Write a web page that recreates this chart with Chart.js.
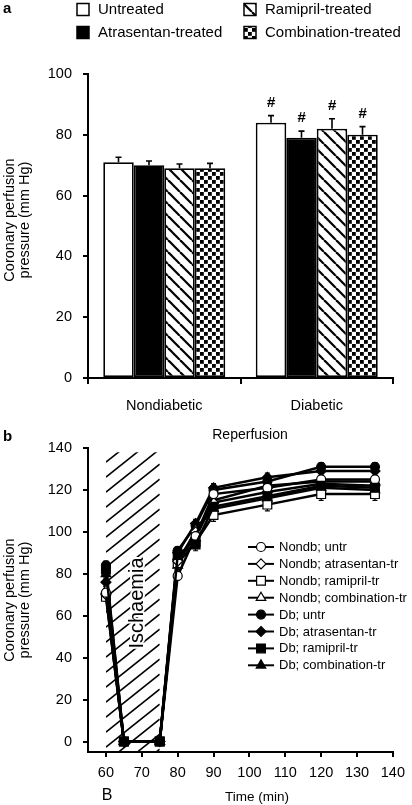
<!DOCTYPE html>
<html><head><meta charset="utf-8">
<script src="https://cdn.jsdelivr.net/npm/chart.js@4/dist/chart.umd.min.js"></script>
<style>
html,body{margin:0;padding:0;background:#fff;width:412px;height:805px;overflow:hidden}
#wa{position:absolute;left:0;top:0;width:412px;height:420px}
#wb{position:absolute;left:0;top:420px;width:412px;height:385px}
canvas{display:block}
</style></head><body>
<div id="wa"><canvas id="ca" width="412" height="420"></canvas></div>
<div id="wb"><canvas id="cb" width="412" height="385"></canvas></div>
<script>
// ---------- Panel a data ----------
const groupsA = ['Nondiabetic', 'Diabetic'];
const treatmentsA = ['Untreated', 'Atrasentan-treated', 'Ramipril-treated', 'Combination-treated'];
const untreatedA = [71, 84];
const atrasentanA = [70, 79];
const ramiprilA = [69, 82];
const combinationA = [69, 80];
const untreatedErrA = [1.6, 2.3];
const atrasentanErrA = [1.4, 2.2];
const ramiprilErrA = [1.4, 3.3];
const combinationErrA = [1.6, 2.7];
const significanceA = ['', '#'];
const yTicksA = [0, 20, 40, 60, 80, 100];
const yTitle = ['Coronary perfusion', 'pressure (mm Hg)'];

// ---------- Panel b data ----------
const timeB = [60, 65, 75, 80, 85, 90, 105, 120, 135];
const seriesNamesB = ['Nondb; untr', 'Nondb; atrasentan-tr', 'Nondb; ramipril-tr', 'Nondb; combination-tr',
                      'Db; untr', 'Db; atrasentan-tr', 'Db; ramipril-tr', 'Db; combination-tr'];
const nondbUntrB  = [71, 0, 0, 79, 98, 118, 121, 125, 125];
const nondbAtrasB = [70, 0, 0, 86, 100, 114, 119, 123, 122];
const nondbRamiB  = [69, 0, 0, 85, 95, 108, 113, 118, 118];
const nondbCombB  = [72, 0, 0, 84, 101, 111, 116, 121, 120];
const dbUntrB     = [84, 0, 0, 91, 103, 120, 124, 131, 131];
const dbAtrasB    = [76, 0, 0, 90, 104, 121, 126, 129, 129];
const dbRamiB     = [82, 0, 0, 89, 94, 112, 117, 122, 121];
const dbCombB     = [80, 0, 0, 88, 97, 115, 122, 124, 124];
const nondbUntrErrB  = [2, 0, 0, 2, 3, 3, 3, 3, 3];
const nondbAtrasErrB = [2, 0, 0, 2, 3, 3, 3, 3, 3];
const nondbRamiErrB  = [2, 0, 0, 3, 3, 3, 3, 3, 3];
const nondbCombErrB  = [2, 0, 0, 2, 3, 3, 3, 3, 3];
const dbUntrErrB     = [2, 0, 0, 2, 2, 2, 2, 2, 2];
const dbAtrasErrB    = [2, 0, 0, 2, 2, 2, 2, 2, 2];
const dbRamiErrB     = [2, 0, 0, 3, 3, 3, 3, 3, 3];
const dbCombErrB     = [2, 0, 0, 2, 2, 2, 2, 2, 2];
const xTicksB = [60, 70, 80, 90, 100, 110, 120, 130, 140];
const yTicksB = [0, 20, 40, 60, 80, 100, 120, 140];
const ischaemiaB = [60, 75];
const ischaemiaTopB = 138;

const FF = '"Liberation Sans", Arial, Helvetica, sans-serif';
Chart.defaults.font.family = FF;
Chart.defaults.color = '#000';

// ---------- patterns ----------
function makeDiagPattern() {
  const s = 12, c = document.createElement('canvas');
  c.width = s; c.height = s;
  const g = c.getContext('2d');
  g.fillStyle = '#fff'; g.fillRect(0, 0, s, s);
  g.strokeStyle = '#000'; g.lineWidth = 2.2;
  for (const k of [-1, 0, 1]) { g.beginPath(); g.moveTo(k * s, 0); g.lineTo(k * s + s, s); g.stroke(); }
  return g.createPattern(c, 'repeat');
}
function makeCheckPattern() {
  const s = 8, c = document.createElement('canvas');
  c.width = s; c.height = s;
  const g = c.getContext('2d');
  g.fillStyle = '#fff'; g.fillRect(0, 0, s, s);
  g.fillStyle = '#000';
  g.fillRect(0, 0, 3.8, 3.8);
  g.fillRect(4, 4, 3.8, 3.8);
  return g.createPattern(c, 'repeat');
}
const diagPat = makeDiagPattern();
const checkPat = makeCheckPattern();

function drawYTitle(ctx, cy) {
  ctx.save();
  ctx.fillStyle = '#000';
  ctx.font = '14.5px ' + FF;
  ctx.textAlign = 'center'; ctx.textBaseline = 'middle';
  ctx.translate(10, cy); ctx.rotate(-Math.PI / 2);
  ctx.fillText(yTitle[0], 0, 0);
  ctx.fillText(yTitle[1], 0, 15);
  ctx.restore();
}

// ---------- Panel a ----------
const fillsA = ['#fff', '#000', diagPat, checkPat];
const valuesA = [untreatedA, atrasentanA, ramiprilA, combinationA];
const errsA = [untreatedErrA, atrasentanErrA, ramiprilErrA, combinationErrA];

const pluginA = {
  id: 'extrasA',
  afterDatasetsDraw(chart) {
    const ctx = chart.ctx, y = chart.scales.y;
    ctx.save();
    ctx.strokeStyle = '#000'; ctx.lineWidth = 1.6;
    chart.data.datasets.forEach((ds, di) => {
      const meta = chart.getDatasetMeta(di);
      meta.data.forEach((el, i) => {
        const yTop = y.getPixelForValue(ds.data[i] + ds.err[i]);
        ctx.beginPath();
        ctx.moveTo(el.x, el.y); ctx.lineTo(el.x, yTop);
        ctx.moveTo(el.x - 3, yTop); ctx.lineTo(el.x + 3, yTop);
        ctx.stroke();
        if (significanceA[i]) {
          ctx.fillStyle = '#000';
          ctx.font = 'italic bold 15px ' + FF;
          ctx.textAlign = 'center'; ctx.textBaseline = 'middle';
          ctx.fillText(significanceA[i], el.x, yTop - 13);
        }
      });
    });
    ctx.restore();
  },
  afterDraw(chart) {
    const ctx = chart.ctx;
    ctx.save();
    ctx.fillStyle = '#000';
    ctx.font = 'bold 15px ' + FF;
    ctx.textAlign = 'left'; ctx.textBaseline = 'middle';
    ctx.fillText('a', 3, 9);
    const pos = [[77, 9.5], [77, 32.5], [244, 9.5], [244, 32.5]];
    chart.data.datasets.forEach((ds, i) => {
      const [bx, cy] = pos[i];
      ctx.fillStyle = ds.backgroundColor;
      ctx.fillRect(bx, cy - 6, 12, 12);
      ctx.strokeStyle = '#000'; ctx.lineWidth = 1.5;
      ctx.strokeRect(bx, cy - 6, 12, 12);
      ctx.fillStyle = '#000';
      ctx.font = '15px ' + FF;
      ctx.textAlign = 'left'; ctx.textBaseline = 'middle';
      ctx.fillText(ds.label, bx + 21, cy + 0.5);
    });
    drawYTitle(ctx, 220);
    ctx.restore();
  }
};

new Chart(document.getElementById('ca'), {
  type: 'bar',
  data: {
    labels: groupsA,
    datasets: treatmentsA.map((name, i) => ({
      label: name, data: valuesA[i], err: errsA[i],
      backgroundColor: fillsA[i], borderColor: '#000', borderWidth: 1.8, borderSkipped: false,
      categoryPercentage: 0.8, barPercentage: 1.0
    }))
  },
  options: {
    responsive: false, animation: false, devicePixelRatio: 1,
    layout: { padding: { left: 0, right: 19, top: 74, bottom: 0 } },
    plugins: { legend: { display: false }, tooltip: { enabled: false } },
    scales: {
      x: {
        grid: { offset: true, drawOnChartArea: false, drawTicks: true, tickLength: 6, color: '#000', lineWidth: 2 },
        border: { color: '#000', width: 2 },
        ticks: { font: { size: 14.5 }, color: '#000', padding: 13 },
        afterFit: s => { s.height = 42; }
      },
      y: {
        min: 0, max: 100,
        afterBuildTicks: s => { s.ticks = yTicksA.map(v => ({ value: v })); },
        grid: { drawOnChartArea: false, tickLength: 5, color: '#000', lineWidth: 2 },
        border: { color: '#000', width: 2 },
        ticks: { font: { size: 14.5 }, color: '#000', padding: 11 },
        afterFit: s => { s.width = 88; }
      }
    }
  },
  plugins: [pluginA]
});

// ---------- Panel b ----------
const valuesB = [nondbUntrB, nondbAtrasB, nondbRamiB, nondbCombB, dbUntrB, dbAtrasB, dbRamiB, dbCombB];
const errsB = [nondbUntrErrB, nondbAtrasErrB, nondbRamiErrB, nondbCombErrB, dbUntrErrB, dbAtrasErrB, dbRamiErrB, dbCombErrB];
const stylesB = ['circle', 'rectRot', 'rect', 'triangle'];
const radiiB = [4.5, 5, 6.2, 5.5];

function drawMarker(ctx, style, r, x, y, fill) {
  ctx.save();
  ctx.fillStyle = fill; ctx.strokeStyle = '#000'; ctx.lineWidth = 1.2;
  ctx.beginPath();
  if (style === 'circle') ctx.arc(x, y, r, 0, Math.PI * 2);
  else if (style === 'rectRot') { ctx.moveTo(x, y - r); ctx.lineTo(x + r, y); ctx.lineTo(x, y + r); ctx.lineTo(x - r, y); ctx.closePath(); }
  else if (style === 'rect') { const s = r * Math.SQRT1_2; ctx.rect(x - s, y - s, 2 * s, 2 * s); }
  else { ctx.moveTo(x, y - r); ctx.lineTo(x + r * 0.866, y + r * 0.5); ctx.lineTo(x - r * 0.866, y + r * 0.5); ctx.closePath(); }
  ctx.fill(); ctx.stroke();
  ctx.restore();
}

const pluginB = {
  id: 'extrasB',
  beforeDatasetsDraw(chart) {
    const ctx = chart.ctx, xs = chart.scales.x, ys = chart.scales.y, ca = chart.chartArea;
    const x1 = xs.getPixelForValue(ischaemiaB[0]), x2 = xs.getPixelForValue(ischaemiaB[1]);
    const yT = ys.getPixelForValue(ischaemiaTopB), yB = ca.bottom;
    ctx.save();
    ctx.beginPath(); ctx.rect(x1, yT, x2 - x1, yB - yT); ctx.clip();
    ctx.strokeStyle = '#000'; ctx.lineWidth = 1.6;
    const w = x2 - x1, rise = w * 0.8;
    for (let c = yT - 5; c < yB + rise + 20; c += 15) {
      ctx.beginPath(); ctx.moveTo(x1, c); ctx.lineTo(x2, c - rise); ctx.stroke();
    }
    ctx.restore();
    // Ischaemia label
    ctx.save();
    ctx.translate(137, 183); ctx.rotate(-Math.PI / 2);
    ctx.font = '20px ' + FF; ctx.textAlign = 'center'; ctx.textBaseline = 'middle';
    ctx.strokeStyle = '#fff'; ctx.lineWidth = 4; ctx.lineJoin = 'round';
    ctx.strokeText('Ischaemia', 0, 0);
    ctx.fillStyle = '#000'; ctx.fillText('Ischaemia', 0, 0);
    ctx.restore();
    // error bars
    ctx.save();
    ctx.strokeStyle = '#000'; ctx.lineWidth = 1.2;
    chart.data.datasets.forEach((ds) => {
      ds.data.forEach((p, i) => {
        const e = ds.err[i];
        if (!e) return;
        const px = xs.getPixelForValue(p.x);
        const a = ys.getPixelForValue(p.y + e), b = ys.getPixelForValue(p.y - e);
        ctx.beginPath();
        ctx.moveTo(px, a); ctx.lineTo(px, b);
        ctx.moveTo(px - 2.5, a); ctx.lineTo(px + 2.5, a);
        ctx.moveTo(px - 2.5, b); ctx.lineTo(px + 2.5, b);
        ctx.stroke();
      });
    });
    ctx.restore();
  },
  afterDraw(chart) {
    const ctx = chart.ctx;
    ctx.save();
    ctx.fillStyle = '#000';
    ctx.font = 'bold 15px ' + FF;
    ctx.textAlign = 'left'; ctx.textBaseline = 'middle';
    ctx.fillText('b', 3, 17);
    ctx.font = '14px ' + FF; ctx.textAlign = 'center';
    ctx.fillText('Reperfusion', 250, 15);
    ctx.font = '16px ' + FF;
    ctx.fillText('B', 107, 376);
    ctx.font = '13.5px ' + FF;
    ctx.fillText('Time (min)', 257, 377);
    drawYTitle(ctx, 180);
    // legend
    chart.data.datasets.forEach((ds, i) => {
      const y = 127 + 16.9 * i;
      ctx.strokeStyle = '#000'; ctx.lineWidth = 2;
      ctx.beginPath(); ctx.moveTo(248, y); ctx.lineTo(274, y); ctx.stroke();
      drawMarker(ctx, ds.pointStyle, ds.pointRadius, 261, y, ds.pointBackgroundColor);
      ctx.fillStyle = '#000';
      ctx.font = '13px ' + FF; ctx.textAlign = 'left'; ctx.textBaseline = 'middle';
      ctx.fillText(ds.label, 279, y + 0.5);
    });
    ctx.restore();
  }
};

new Chart(document.getElementById('cb'), {
  type: 'line',
  data: {
    datasets: seriesNamesB.map((name, i) => ({
      label: name,
      data: timeB.map((t, j) => ({ x: t, y: valuesB[i][j] })),
      err: errsB[i],
      borderColor: '#000', borderWidth: 2.5, tension: 0,
      pointStyle: stylesB[i % 4], pointRadius: radiiB[i % 4],
      pointBackgroundColor: i < 4 ? '#fff' : '#000',
      pointBorderColor: '#000', pointBorderWidth: 1.2,
      order: i === 6 ? -1 : 0
    }))
  },
  options: {
    responsive: false, animation: false, devicePixelRatio: 1,
    layout: { padding: { left: 0, right: 19, top: 28, bottom: 0 } },
    plugins: { legend: { display: false }, tooltip: { enabled: false } },
    scales: {
      x: {
        type: 'linear', min: 55, max: 140,
        afterBuildTicks: s => { s.ticks = xTicksB.map(v => ({ value: v })); },
        grid: { drawOnChartArea: false, tickLength: 5, color: '#000', lineWidth: 2 },
        border: { color: '#000', width: 2 },
        ticks: { font: { size: 14.5 }, color: '#000', padding: 7 },
        afterFit: s => { s.height = 53; }
      },
      y: {
        min: -5, max: 140,
        afterBuildTicks: s => { s.ticks = yTicksB.map(v => ({ value: v })); },
        grid: { drawOnChartArea: false, tickLength: 5, color: '#000', lineWidth: 2 },
        border: { color: '#000', width: 2 },
        ticks: { font: { size: 14.5 }, color: '#000', padding: 11 },
        afterFit: s => { s.width = 88; }
      }
    }
  },
  plugins: [pluginB]
});
</script>
</body></html>
